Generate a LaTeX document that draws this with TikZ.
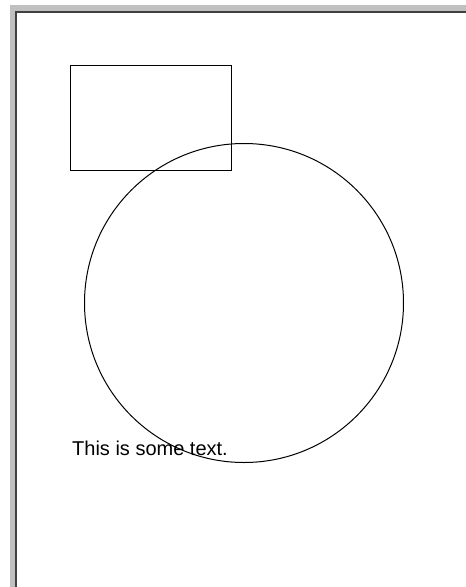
\documentclass[tikz,border=0pt]{standalone}
\usepackage{fontspec}
\setmainfont{Liberation Sans}
\usepackage{tikz}
\definecolor{FrameGray}{HTML}{C0C0C0}
\definecolor{FrameDark}{HTML}{404040}

\begin{document}
\begin{tikzpicture}[x=1pt,y=-1pt, every node/.style={font=\fontsize{20}{24}\selectfont}]
  \useasboundingbox (0,0) rectangle (466,587);
  \fill[FrameGray] (10,5) rectangle (466,587);
  \fill[white] (17,13) rectangle (466,587);
  \draw[FrameDark, line width=2pt] (16,587) -- (16,12) -- (466,12);
  \draw[line width=1pt] (70.5,65.5) rectangle (231.5,170.5);
  \draw[line width=1pt] (244,303) circle (159.5pt);
  \node[anchor=base west, inner sep=0pt] (caption) at (72,455) {This is some text.};
\end{tikzpicture}
\end{document}
